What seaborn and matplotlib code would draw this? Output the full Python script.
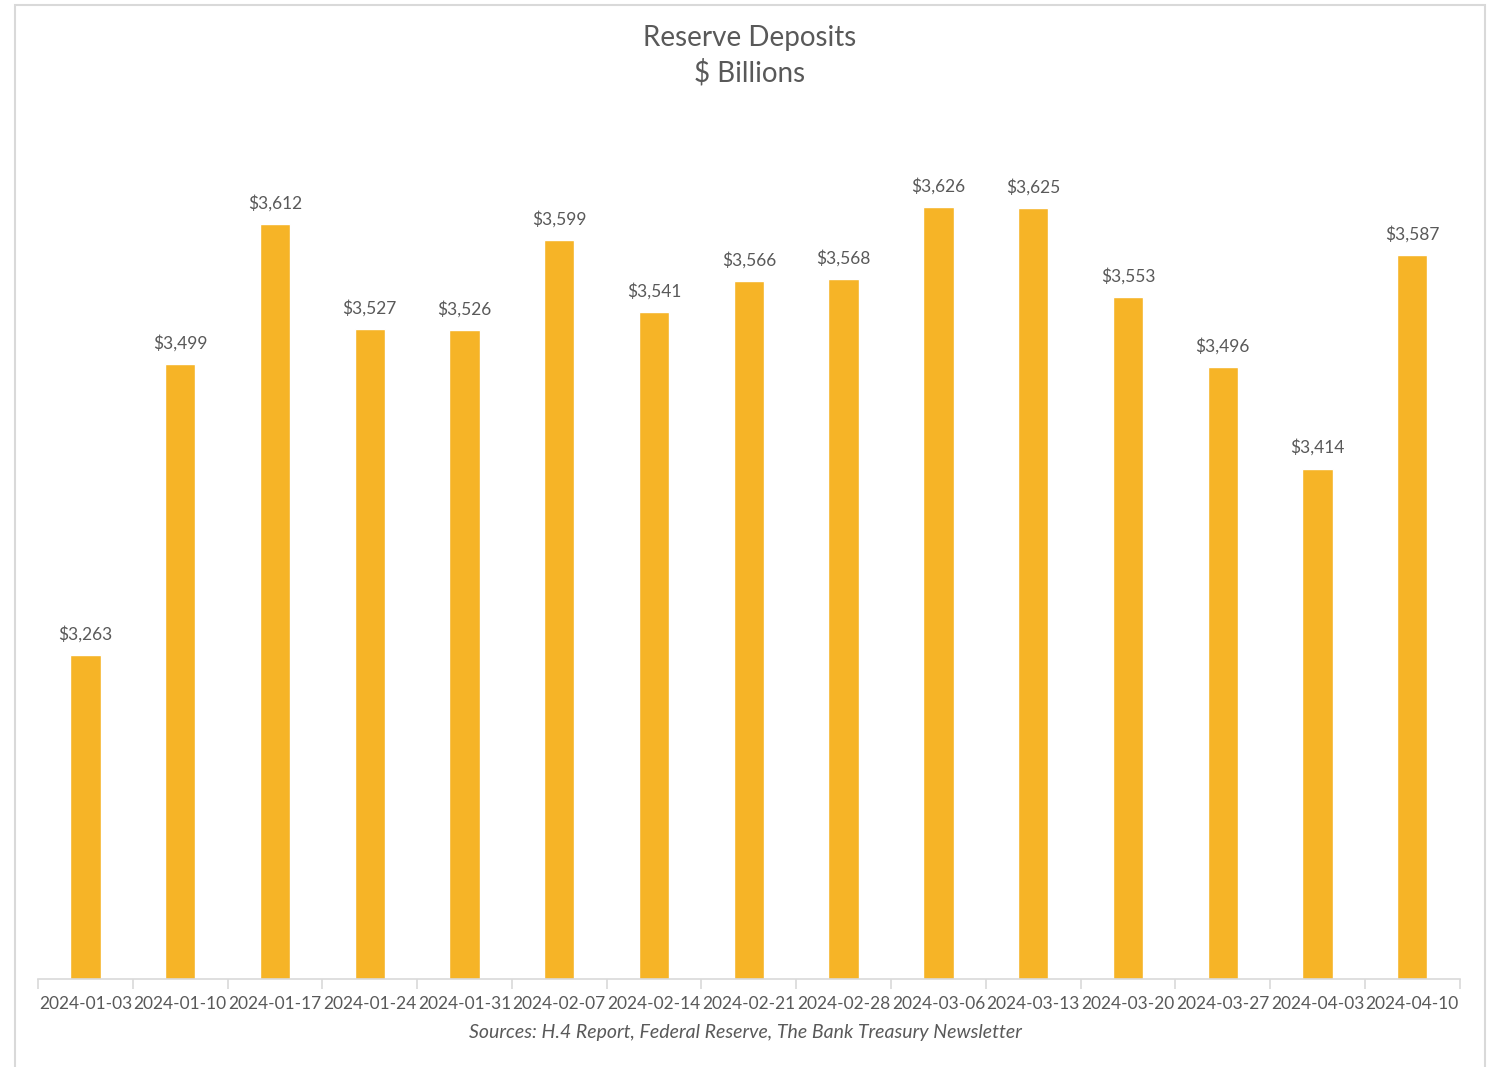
import matplotlib
matplotlib.use("Agg")
import matplotlib.pyplot as plt
import seaborn as sns
import pandas as pd
from matplotlib.patches import Rectangle

# Weekly reserve balances from the H.4.1 release, $ billions
dates = ["2024-01-03", "2024-01-10", "2024-01-17", "2024-01-24", "2024-01-31",
         "2024-02-07", "2024-02-14", "2024-02-21", "2024-02-28", "2024-03-06",
         "2024-03-13", "2024-03-20", "2024-03-27", "2024-04-03", "2024-04-10"]
reserves = [3263, 3499, 3612, 3527, 3526, 3599, 3541, 3566, 3568, 3626,
            3625, 3553, 3496, 3414, 3587]

df = pd.DataFrame({"date": dates, "reserves": reserves})

sns.set_theme(style="white")
plt.rcParams["font.family"] = ["Lato", "DejaVu Sans"]

TEXT = "#595959"
BAR = "#F6B427"
GRID = "#D9D9D9"

fig = plt.figure(figsize=(14.91, 10.67), dpi=100)
ax = fig.add_axes([0.0255, 0.0825, 0.9535, 0.8065])

sns.barplot(data=df, x="date", y="reserves", color=BAR, width=0.32,
            saturation=1, ax=ax)

ax.set_ylim(3000, 3698)
ax.set_xlim(-0.5, len(dates) - 0.5)

for i, v in enumerate(reserves):
    ax.annotate(f"${v:,}", (i, v), xytext=(0, 9), textcoords="offset points",
                ha="center", va="bottom", fontsize=12.5, color=TEXT)

for s in ["top", "right", "left"]:
    ax.spines[s].set_visible(False)
ax.spines["bottom"].set_color(GRID)
ax.spines["bottom"].set_linewidth(1.2)
ax.set_yticks([])
ax.set_xlabel("")
ax.set_ylabel("")

# category boundary ticks below the axis
ax.set_xticks([i + 0.5 for i in range(-1, len(dates))], minor=True)
ax.tick_params(axis="x", which="minor", length=7, width=1.2, color=GRID,
               direction="out", bottom=True)
ax.tick_params(axis="x", which="major", length=0, labelsize=12.5,
               labelcolor=TEXT, pad=12)

fig.text(0.5025, 0.964, "Reserve Deposits", ha="center", va="center",
         fontsize=20, color=TEXT)
fig.text(0.5025, 0.932, "$ Billions", ha="center", va="center",
         fontsize=20, color=TEXT)
fig.text(0.5, 0.032, "Sources: H.4 Report, Federal Reserve, The Bank Treasury Newsletter",
         ha="center", va="center", fontsize=14, style="italic", color=TEXT)

# light frame around the chart area
fig.patches.append(Rectangle((0.0101, -0.01), 0.986, 1.005,
                             transform=fig.transFigure, fill=False,
                             edgecolor=GRID, linewidth=1.5))

fig.savefig("out.png", dpi=100, facecolor="white")
